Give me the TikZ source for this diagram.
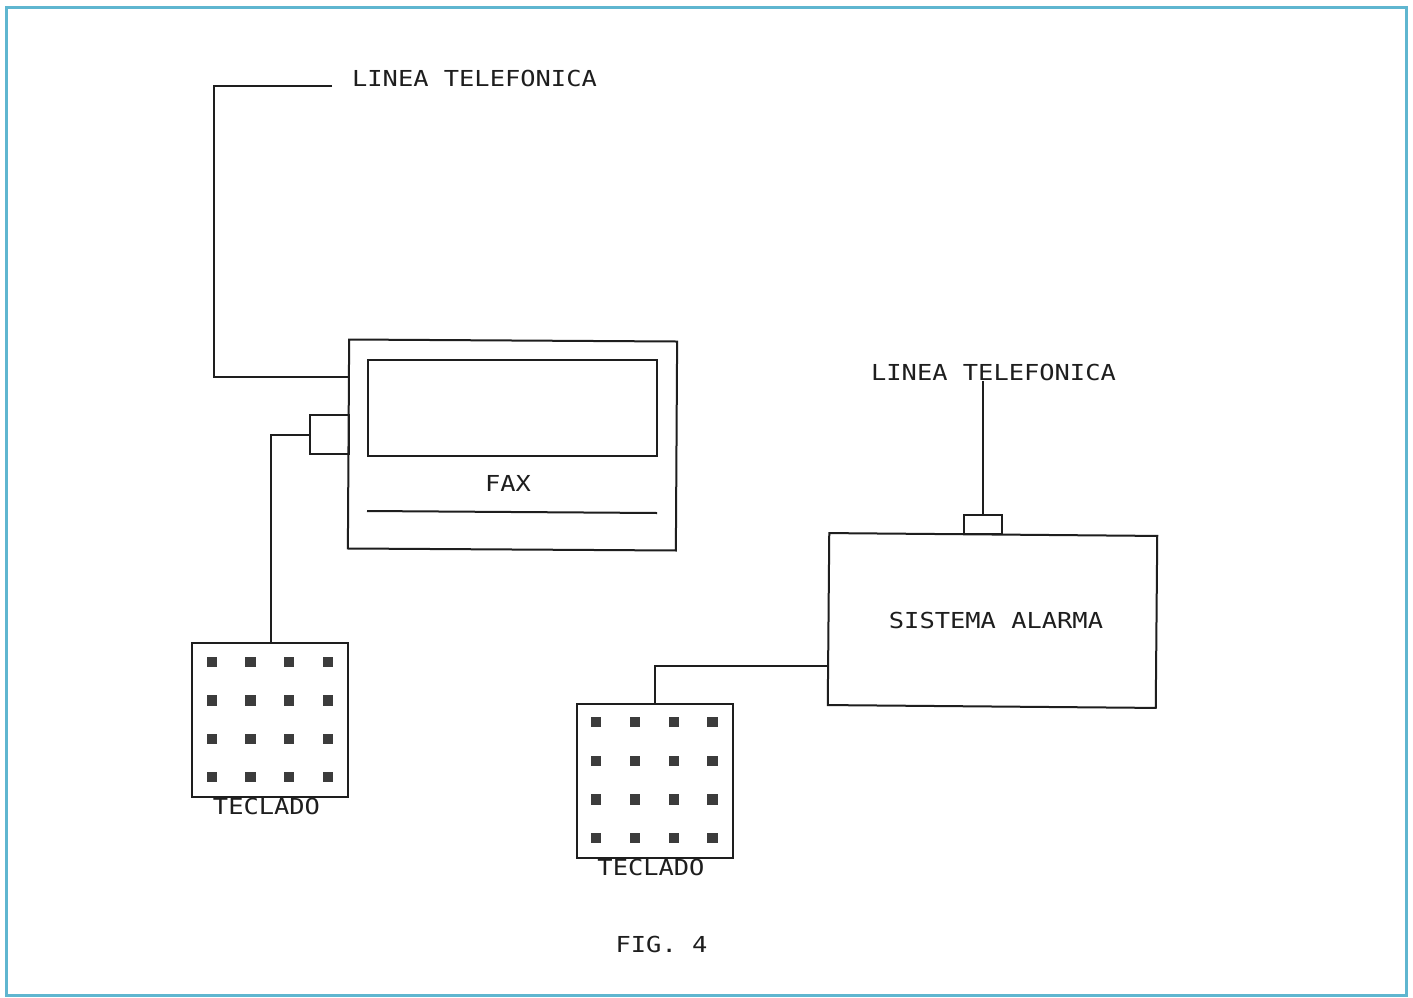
\documentclass[tikz,border=0pt]{standalone}
\usepackage{fontspec}
\setmonofont[FakeStretch=1.155]{DejaVu Sans Mono}
\definecolor{frameblue}{HTML}{5FB6D0}
\definecolor{ink}{HTML}{1E1E1E}
\definecolor{dotgrey}{HTML}{3C3C3C}
\tikzset{
  frameline/.style={draw=frameblue,line width=3pt},
  boxline/.style={draw=ink,line width=2pt,inner sep=0pt,outer sep=0pt},
  wire/.style={draw=ink,line width=2pt,line join=miter},
  lbl/.style={text=ink,font=\fontsize{22}{24}\selectfont\ttfamily,inner sep=0pt,anchor=center},
  keybox/.style={boxline,minimum width=156pt,minimum height=154pt},
  keydot/.style={fill=dotgrey,minimum size=10.5pt,inner sep=0pt,outer sep=0pt},
}
\begin{document}
\begin{tikzpicture}[x=1pt,y=-1pt]
\useasboundingbox (0,0) rectangle (1413,998);
\fill[white] (0,0) rectangle (1413,998);
\node[frameline,minimum width=1400pt,minimum height=987pt,inner sep=0pt] (frame) at (706,501.5) {};

% FAX
\node[boxline,minimum width=328pt,minimum height=209pt,rotate=-0.35] (fax) at (512.5,445) {};
\node[boxline,minimum width=289pt,minimum height=96pt] (screen) at (512.5,408) {};
\node[boxline,minimum width=39pt,minimum height=39pt] (faxplug) at (329.5,434.5) {};
\node[lbl] (faxlabel) at (508,483) {FAX};
\coordinate (slotL) at (367,511);
\coordinate (slotR) at (657,513);
\draw[wire] (slotL) -- (slotR);

% Alarm
\node[boxline,minimum width=328pt,minimum height=172pt,rotate=-0.5] (alarm) at (992.5,620.5) {};
\node[boxline,minimum width=38pt,minimum height=19pt] (alarmplug) at (983,524.5) {};
\node[lbl] (alarmlabel) at (996,620) {SISTEMA ALARMA};

% Lines
\node[lbl] (line1) at (474.5,78) {LINEA TELEFONICA};
\node[lbl] (line2) at (993.5,372) {LINEA TELEFONICA};
\coordinate (line1end) at (332,86);
\coordinate (faxin) at (349,377);
\draw[wire] (line1end) -- (214,86) -- (214,377) -- (faxin);
\coordinate (line2end) at (983,381);
\draw[wire] (line2end) -- (alarmplug.north);

% Keypad 1
\node[keybox] (kp1) at (270,719.5) {};
\foreach \r/\yy in {a/662,b/700.5,c/739,d/777}
  \foreach \c/\xx in {1/212,2/250.5,3/289,4/328}
    \node[keydot] (kp1\r\c) at (\xx,\yy) {};
\node[lbl] (kp1label) at (266.5,806) {TECLADO};
\draw[wire] (faxplug.west) -- (271,434.5) -- (271,642.5);

% Keypad 2
\node[keybox] (kp2) at (654.5,781) {};
\foreach \r/\yy in {a/722,b/761,c/799.5,d/838}
  \foreach \c/\xx in {1/596,2/635,3/674,4/712.5}
    \node[keydot] (kp2\r\c) at (\xx,\yy) {};
\node[lbl] (kp2label) at (651,867) {TECLADO};
\draw[wire] (alarm.west |- 0,666) -- (655,666) -- (655,704);

\node[lbl] (figlabel) at (661.5,944) {FIG. 4};
\end{tikzpicture}
\end{document}
